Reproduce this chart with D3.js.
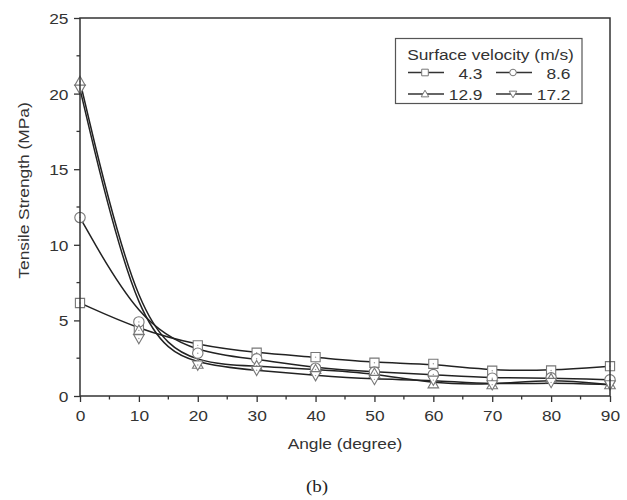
<!DOCTYPE html>
<html><head><meta charset="utf-8">
<script src="https://cdn.jsdelivr.net/npm/d3@7"></script>
<style>html,body{margin:0;padding:0;background:#fff;}svg{display:block;}</style>
</head><body><svg id="c" width="627" height="500"></svg>
<script>
const angles = [0,10,20,30,40,50,60,70,80,90];
const s43  = [6.15, 4.4, 3.35, 2.86, 2.57, 2.2, 2.13, 1.67, 1.69, 1.97];
const s86  = [11.8, 4.9, 2.83, 2.46, 1.84, 1.58, 1.42, 1.18, 1.2, 1.07];
const s129 = [20.8, 4.34, 2.1, 2.0, 1.75, 1.5, 0.8, 0.74, 1.14, 0.74];
const s172 = [20.3, 3.8, 2.05, 1.7, 1.35, 1.1, 1.05, 0.75, 0.9, 0.75];
const seriesNames = ["4.3","8.6","12.9","17.2"];
const seriesSymbols = ["square","circle","up","down"];
const xTicks = [0,10,20,30,40,50,60,70,80,90];
const yTicks = [0,5,10,15,20,25];

const series = [s43,s86,s129,s172].map((v,i)=>({name:seriesNames[i],sym:seriesSymbols[i],vals:v}));

const svg = d3.select("#c");
const L=80,R=610,T=18,B=396;
const x = d3.scaleLinear().domain([0,90]).range([L,R]);
const y = d3.scaleLinear().domain([0,25]).range([B,T]);
const axCol="#333", txtCol="#333";
const font="'Liberation Sans', Arial, sans-serif";
const SX=1.12, FS=15.5;

function txt(parent,tx,ty,str,anchor,size,fam,fill,rot){
  return parent.append("text")
    .attr("transform",`translate(${tx},${ty})${rot?` rotate(${rot})`:""} scale(${SX},1)`)
    .attr("text-anchor",anchor).attr("font-family",fam||font).attr("font-size",size||FS)
    .attr("fill",fill||txtCol).text(str);
}

// lines
const line = d3.line().x((d,i)=>x(angles[i])).y(d=>y(d)).curve(d3.curveBasis);
series.forEach(s=>{
  svg.append("path").attr("d",line(s.vals)).attr("fill","none")
    .attr("stroke","#222").attr("stroke-width",1.5);
});

function symPath(sym,r){
  if(sym==="square") return `M${-r},${-r}H${r}V${r}H${-r}Z`;
  if(sym==="circle") return d3.arc()({innerRadius:0,outerRadius:r,startAngle:0,endAngle:2*Math.PI});
  const h=r*1.15;
  if(sym==="up") return `M0,${-h}L${h},${h*0.75}L${-h},${h*0.75}Z`;
  return `M0,${h}L${h},${-h*0.75}L${-h},${-h*0.75}Z`;
}
// markers
series.forEach(s=>{
  const g=svg.append("g");
  s.vals.forEach((v,i)=>{
    const m=g.append("g").attr("transform",`translate(${x(angles[i])},${y(v)})`);
    m.append("path").attr("d",symPath(s.sym,s.sym==="circle"?5.2:4.6))
      .attr("fill","#fff").attr("stroke","#777").attr("stroke-width",1.1);
    m.append("circle").attr("r",0.7).attr("fill","#999");
  });
});

// frame
svg.append("path").attr("d",`M${L},${B}V${T}H${R}V${B}`).attr("fill","none")
  .attr("stroke",axCol).attr("stroke-width",1.5);
svg.append("line").attr("x1",L).attr("x2",R).attr("y1",B).attr("y2",B)
  .attr("stroke",axCol).attr("stroke-width",1.5);

// axes
const xAxis = d3.axisBottom(x).tickValues(xTicks).tickSize(6).tickFormat(d3.format("d"));
const gx = svg.append("g").attr("transform",`translate(0,${B})`).call(xAxis);
const yAxis = d3.axisLeft(y).tickValues(yTicks).tickSize(6).tickFormat(d3.format("d"));
const gy = svg.append("g").attr("transform",`translate(${L},0)`).call(yAxis);
[gx,gy].forEach(g=>{
  g.select(".domain").remove();
  g.selectAll(".tick line").attr("stroke",axCol).attr("stroke-width",1.3);
  g.selectAll(".tick text").attr("fill",txtCol).attr("font-family",font).attr("font-size",FS)
    .attr("transform",`scale(${SX},1)`);
});
gx.selectAll(".tick text").attr("dy",0).attr("y",421.5-B);
gy.selectAll(".tick text").attr("x",-11.5/SX).attr("dy","0.36em");
// minor ticks
const xMinor=[5,15,25,35,45,55,65,75,85], yMinor=[2.5,7.5,12.5,17.5,22.5];
svg.append("g").selectAll("line").data(xMinor).join("line")
  .attr("x1",d=>x(d)).attr("x2",d=>x(d)).attr("y1",B).attr("y2",B+3.5)
  .attr("stroke",axCol).attr("stroke-width",1.3);
svg.append("g").selectAll("line").data(yMinor).join("line")
  .attr("y1",d=>y(d)).attr("y2",d=>y(d)).attr("x1",L).attr("x2",L-3.5)
  .attr("stroke",axCol).attr("stroke-width",1.3);

// titles
txt(svg,(L+R)/2,449,"Angle (degree)","middle");
txt(svg,29,190.5,"Tensile Strength (MPa)","middle",FS,font,txtCol,-90);
txt(svg,317,492,"(b)","middle",17,"'Liberation Serif', 'Times New Roman', serif","#222");

// legend
const lg=svg.append("g");
lg.append("rect").attr("x",395.5).attr("y",38.5).attr("width",186.5).attr("height",65)
  .attr("fill","#fff").attr("stroke","#555").attr("stroke-width",1.2);
txt(lg,490.5,59.5,"Surface velocity (m/s)","middle");
const lpos=[[408,72.5],[496,72.5],[408,94],[496,94]];
series.forEach((s,i)=>{
  const [lx,ly]=lpos[i];
  lg.append("line").attr("x1",lx).attr("x2",lx+36).attr("y1",ly).attr("y2",ly)
    .attr("stroke","#333").attr("stroke-width",1.3);
  lg.append("path").attr("transform",`translate(${lx+17},${ly})`).attr("d",symPath(s.sym,3.3))
    .attr("fill","#fff").attr("stroke","#777").attr("stroke-width",1);
  txt(lg,lx+74.5,ly+6,s.name,"end");
});
</script></body></html>
